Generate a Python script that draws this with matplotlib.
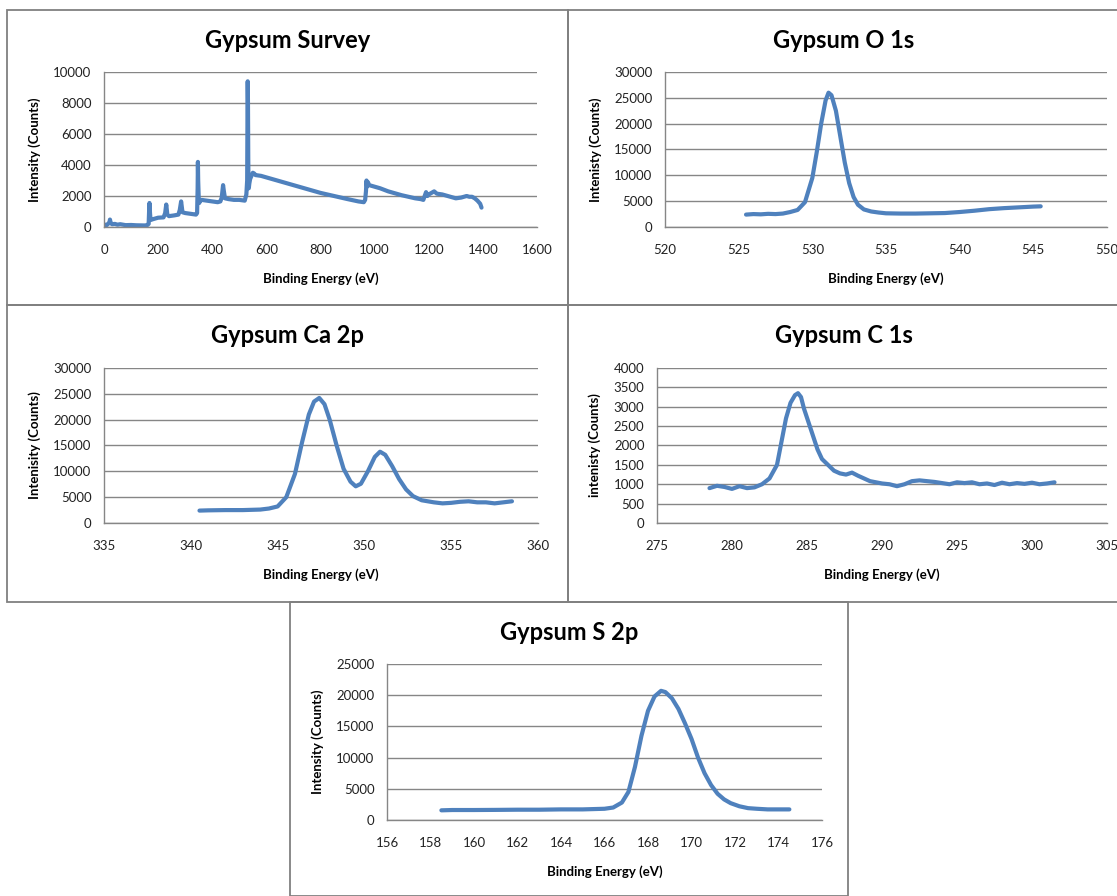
import numpy as np
import matplotlib
matplotlib.use('Agg')
from matplotlib import pyplot as plt
from matplotlib.patches import Rectangle

plt.rcParams['font.family'] = ['Lato', 'DejaVu Sans']

# survey spectrum
survey_be = [0, 5, 10, 15, 20, 22, 25, 30, 40, 50, 60, 80, 100, 120, 150, 160, 165, 167, 168, 170,
             172, 180, 200, 220, 226, 230, 234, 240, 260, 275, 280, 285, 290, 300, 320, 340, 344,
             346, 347, 348, 350, 352, 355, 360, 380, 400, 420, 430, 435, 440, 443, 447, 460, 480,
             500, 520, 526, 529, 530, 531, 532, 533, 534, 535, 537, 540, 545, 550, 555, 560, 580,
             600, 650, 700, 750, 800, 850, 900, 940, 960, 965, 968, 970, 972, 975, 980, 990, 1000,
             1020, 1050, 1100, 1150, 1170, 1180, 1185, 1190, 1195, 1200, 1210, 1220, 1230, 1250,
             1280, 1300, 1320, 1340, 1350, 1360, 1370, 1380, 1390, 1395]
survey_counts = [80, 150, 120, 200, 280, 480, 250, 180, 200, 150, 180, 120, 130, 110, 100, 120, 200,
                 1200, 1550, 900, 450, 500, 600, 620, 900, 1450, 800, 700, 750, 800, 1100, 1650,
                 950, 900, 850, 800, 900, 2500, 4200, 3000, 1900, 1550, 1700, 1750, 1700, 1650,
                 1600, 1650, 1900, 2700, 2300, 1850, 1800, 1750, 1750, 1700, 2100, 3000, 6500,
                 9400, 8000, 4500, 2600, 2500, 2800, 3100, 3300, 3500, 3450, 3350, 3300, 3200,
                 2950, 2700, 2450, 2200, 2000, 1800, 1650, 1600, 1750, 2300, 3000, 2600, 2900,
                 2700, 2650, 2600, 2500, 2300, 2050, 1850, 1800, 1750, 2000, 2250, 2000, 2100,
                 2200, 2300, 2150, 2100, 1950, 1850, 1900, 2000, 1950, 1950, 1850, 1700, 1500,
                 1250]

# O 1s region
o1s_be = [525.5, 526, 526.5, 527, 527.5, 528, 528.5, 529, 529.5, 530, 530.3, 530.6, 530.9, 531.1,
          531.3, 531.6, 531.9, 532.2, 532.5, 532.8, 533.1, 533.5, 534, 534.5, 535, 536, 537, 538,
          539, 540, 541, 542, 543, 544, 545, 545.5]
o1s_counts = [2400, 2500, 2450, 2550, 2500, 2600, 2900, 3300, 4800, 9500, 14500, 20000, 24500,
              26000, 25500, 22500, 17500, 12500, 8500, 5800, 4300, 3400, 3000, 2800, 2650, 2600,
              2600, 2650, 2700, 2900, 3150, 3450, 3650, 3800, 3950, 4000]

# Ca 2p region
ca2p_be = [340.5, 341, 342, 343, 344, 344.5, 345, 345.5, 346, 346.4, 346.8, 347.1, 347.4, 347.7,
           348, 348.4, 348.8, 349.2, 349.5, 349.8, 350.2, 350.6, 350.9, 351.2, 351.6, 352, 352.4,
           352.8, 353.3, 354, 354.5, 355, 355.5, 356, 356.5, 357, 357.5, 358, 358.5]
ca2p_counts = [2400, 2450, 2500, 2500, 2600, 2800, 3200, 5000, 9500, 15500, 21000, 23500, 24200,
               23000, 20000, 15000, 10500, 8000, 7100, 7600, 10000, 12800, 13800, 13200, 11000,
               8500, 6500, 5200, 4400, 4000, 3800, 3900, 4100, 4200, 4000, 4000, 3800, 4000, 4200]

# C 1s region
c1s_be = [278.5, 279, 279.5, 280, 280.5, 281, 281.5, 282, 282.5, 283, 283.3, 283.6, 283.9, 284.2,
          284.4, 284.6, 284.8, 285.1, 285.4, 285.7, 286, 286.4, 286.8, 287.2, 287.6, 288, 288.4,
          288.8, 289.2, 289.6, 290, 290.5, 291, 291.5, 292, 292.5, 293, 293.5, 294, 294.5, 295,
          295.5, 296, 296.5, 297, 297.5, 298, 298.5, 299, 299.5, 300, 300.5, 301, 301.5]
c1s_counts = [900, 960, 930, 880, 950, 900, 920, 1000, 1150, 1500, 2100, 2700, 3100, 3300, 3350,
              3250, 2950, 2600, 2250, 1900, 1650, 1500, 1350, 1280, 1250, 1300, 1220, 1150, 1080,
              1050, 1020, 1000, 950, 1000, 1080, 1100, 1080, 1060, 1030, 1000, 1050, 1030, 1050,
              1000, 1020, 980, 1040, 1000, 1030, 1010, 1040, 1000, 1020, 1050]

# S 2p region
s2p_be = [158.5, 159, 160, 161, 162, 163, 164, 165, 165.5, 166, 166.4, 166.8, 167.1, 167.4,
          167.7, 168, 168.3, 168.6, 168.8, 169.1, 169.4, 169.7, 170, 170.3, 170.6, 170.9, 171.2,
          171.5, 171.8, 172.2, 172.6, 173, 173.5, 174, 174.5]
s2p_counts = [1550, 1600, 1600, 1620, 1650, 1650, 1700, 1700, 1750, 1800, 2000, 2800, 4500, 8500,
              13500, 17500, 19800, 20700, 20500, 19500, 17800, 15500, 13000, 10000, 7500, 5600,
              4200, 3300, 2700, 2200, 1900, 1800, 1700, 1700, 1700]

W, H = 1117, 896
line_color = '#4f81bd'
grid_color = '#868686'


def px_box(x0, y0, x1, y1):
    # pixel box (top-left origin) -> figure fraction rect
    return [x0 / W, 1 - y1 / H, (x1 - x0) / W, (y1 - y0) / H]


def panel(fig, frame, plot_box, title, ylabel, be, counts, xlim, xstep, ylim, ystep):
    fx0, fy0, fx1, fy1 = frame
    fig.patches.append(Rectangle((fx0 / W, 1 - fy1 / H), (fx1 - fx0) / W, (fy1 - fy0) / H,
                                 transform=fig.transFigure, fill=False, edgecolor='#808080',
                                 linewidth=1.3))
    ax = fig.add_axes(px_box(*plot_box))
    ax.plot(be, counts, color=line_color, linewidth=3.0, solid_joinstyle='round',
            solid_capstyle='round')
    ax.set_xlim(*xlim)
    ax.set_ylim(*ylim)
    ax.set_xticks(np.arange(xlim[0], xlim[1] + xstep / 2, xstep))
    ax.set_yticks(np.arange(ylim[0], ylim[1] + ystep / 2, ystep))
    ax.yaxis.grid(True, color=grid_color, linewidth=1.0)
    ax.set_axisbelow(True)
    for side in ['top', 'right']:
        ax.spines[side].set_visible(False)
    for side in ['left', 'bottom']:
        ax.spines[side].set_color(grid_color)
        ax.spines[side].set_linewidth(1.0)
    ax.tick_params(length=0, labelsize=9.5, colors='#222222')
    ax.tick_params(axis='x', pad=12)
    ax.tick_params(axis='y', pad=9)
    ax.set_xlabel('Binding Energy (eV)', fontsize=9.5, fontweight='bold', labelpad=12)
    ax.set_ylabel(ylabel, fontsize=9.5, fontweight='bold', labelpad=9)
    cx = (fx0 + fx1) / 2
    fig.text(cx / W, 1 - (fy0 + 30) / H, title, ha='center', va='center',
             fontsize=17, fontweight='bold')
    return ax


fig = plt.figure(figsize=(W / 100, H / 100), dpi=100)

panel(fig, (7, 10, 568, 305), (104, 72, 537, 227), 'Gypsum Survey', 'Intensity (Counts)',
      survey_be, survey_counts, (0, 1600), 200, (0, 10000), 2000)
panel(fig, (568, 10, 1120, 305), (665, 72, 1107, 227), 'Gypsum O 1s', 'Intenisty (Counts)',
      o1s_be, o1s_counts, (520, 550), 5, (0, 30000), 5000)
panel(fig, (7, 305, 568, 602), (104, 368, 538, 523), 'Gypsum Ca 2p', 'Intenisity (Counts)',
      ca2p_be, ca2p_counts, (335, 360), 5, (0, 30000), 5000)
panel(fig, (568, 305, 1120, 602), (657, 368, 1107, 523), 'Gypsum C 1s', 'intenisty (Counts)',
      c1s_be, c1s_counts, (275, 305), 5, (0, 4000), 500)
panel(fig, (290, 602, 848, 896), (387, 664, 822, 820), 'Gypsum S 2p', 'Intensity (Counts)',
      s2p_be, s2p_counts, (156, 176), 2, (0, 25000), 5000)

fig.savefig('out.png', dpi=100, facecolor='white')
